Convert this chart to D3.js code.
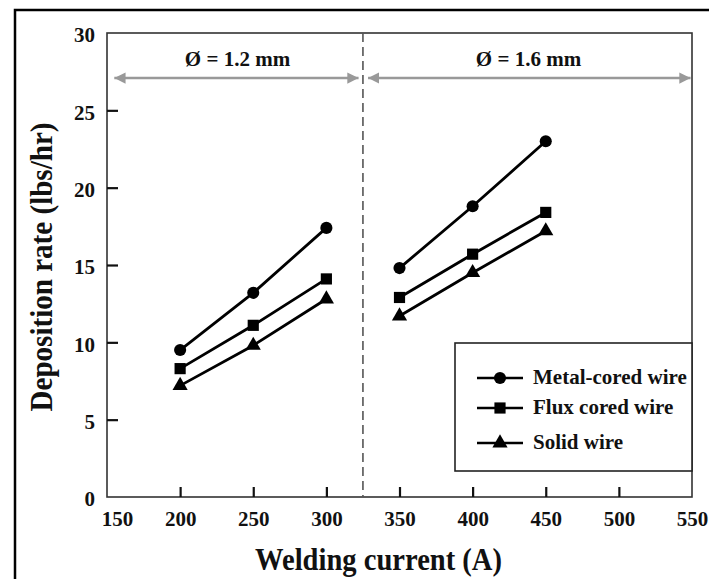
<!DOCTYPE html>
<html><head><meta charset="utf-8">
<script src="https://cdn.jsdelivr.net/npm/d3@7"></script>
<style>body{margin:0;background:#fff;} svg{display:block;} text{font-family:"Liberation Serif","Times New Roman",Times,"DejaVu Serif",serif;font-weight:bold;}</style>
</head><body>
<script>
const currents12 = [200, 250, 300];
const currents16 = [350, 400, 450];
const seriesNames = ["Metal-cored wire", "Flux cored wire", "Solid wire"];
const metalCored12 = [9.5, 13.2, 17.4];
const metalCored16 = [14.8, 18.8, 23.0];
const fluxCored12 = [8.3, 11.1, 14.1];
const fluxCored16 = [12.9, 15.7, 18.4];
const solid12 = [7.2, 9.8, 12.8];
const solid16 = [11.7, 14.5, 17.2];
const xTicks = [150, 200, 250, 300, 350, 400, 450, 500, 550];
const yTicks = [0, 5, 10, 15, 20, 25, 30];
const dividerX = 325;
const groupLabels = ["Ø = 1.2 mm", "Ø = 1.6 mm"];

const W = 709, H = 579;
const m = {left: 107, right: 692, top: 33, bottom: 497};
const svg = d3.select("body").append("svg").attr("width", W).attr("height", H);

// outer frame
svg.append("path").attr("d", `M15,${H+2} L15,10 L${W+2},10`).attr("fill","none").attr("stroke","#000").attr("stroke-width",2.5);

const x = d3.scaleLinear().domain([150, 550]).range([m.left, m.right]);
const y = d3.scaleLinear().domain([0, 30]).range([m.bottom, m.top]);

// plot box
svg.append("rect").attr("x", m.left).attr("y", m.top).attr("width", m.right-m.left).attr("height", m.bottom-m.top)
  .attr("fill","none").attr("stroke","#333").attr("stroke-width",1.6);

// axes
const xAxis = d3.axisBottom(x).tickValues(xTicks).tickSizeInner(-10).tickSizeOuter(0).tickPadding(14);
const gx = svg.append("g").attr("transform", `translate(0,${m.bottom})`).call(xAxis);
const yAxis = d3.axisLeft(y).tickValues(yTicks).tickSizeInner(-11).tickSizeOuter(0).tickPadding(12);
const gy = svg.append("g").attr("transform", `translate(${m.left},0)`).call(yAxis);
[gx, gy].forEach(g => {
  g.attr("font-family", null);
  g.select(".domain").remove();
  g.selectAll(".tick line").attr("stroke","#111").attr("stroke-width",2.2);
  g.selectAll("text").attr("font-size",21).attr("fill","#111");
});
gy.selectAll("text").attr("dy","0.42em");
gx.selectAll(".tick").filter(d => d === 150 || d === 550).select("line").remove();
gx.selectAll(".tick").filter(d => d === 150).select("text").attr("dx", 10);
gy.selectAll(".tick").filter(d => d === 0 || d === 30).select("line").remove();

// divider
svg.append("line").attr("x1", x(dividerX)).attr("x2", x(dividerX)).attr("y1", m.top).attr("y2", m.bottom)
  .attr("stroke","#555").attr("stroke-width",1.6).attr("stroke-dasharray","9,5");

// group arrows
const defs = svg.append("defs");
defs.append("marker").attr("id","ah").attr("viewBox","0 0 10 10").attr("refX",10).attr("refY",5)
  .attr("markerWidth",4.5).attr("markerHeight",4.5).attr("markerUnits","strokeWidth").attr("orient","auto-start-reverse")
  .append("path").attr("d","M0,0 L10,5 L0,10 Z").attr("fill","#999");
const groups = [[155, 322], [328.5, 549]];
groups.forEach((g, i) => {
  svg.append("line").attr("x1", x(g[0])).attr("x2", x(g[1])).attr("y1", 78).attr("y2", 78)
    .attr("stroke","#999").attr("stroke-width",2.5).attr("marker-start","url(#ah)").attr("marker-end","url(#ah)");
  svg.append("text").attr("x", i === 0 ? 237.5 : 528.5).attr("y", 66).attr("text-anchor","middle")
    .attr("font-size",21).attr("fill","#111").text(groupLabels[i]);
});

// series
const symbols = [d3.symbolCircle, d3.symbolSquare, d3.symbolTriangle];
const symSizes = [115, 125, 100];
const data = [
  [metalCored12, metalCored16],
  [fluxCored12, fluxCored16],
  [solid12, solid16]
];
const line = d3.line().x(d => x(d[0])).y(d => y(d[1]));
data.forEach((s, si) => {
  [[currents12, s[0]], [currents16, s[1]]].forEach(([cx, vals]) => {
    const pts = cx.map((c, i) => [c, vals[i]]);
    svg.append("path").attr("d", line(pts)).attr("fill","none").attr("stroke","#000").attr("stroke-width",2.8);
    svg.selectAll(null).data(pts).enter().append("path")
      .attr("d", d3.symbol().type(symbols[si]).size(symSizes[si]))
      .attr("transform", d => `translate(${x(d[0])},${y(d[1])})`).attr("fill","#000");
  });
});

// legend
const lg = svg.append("g");
lg.append("rect").attr("x", 455).attr("y", 343).attr("width", 237).attr("height", 128)
  .attr("fill","#fff").attr("stroke","#222").attr("stroke-width",1.6);
const rowsY = [378, 408, 443];
seriesNames.forEach((n, i) => {
  lg.append("line").attr("x1", 477).attr("x2", 523).attr("y1", rowsY[i]).attr("y2", rowsY[i])
    .attr("stroke","#000").attr("stroke-width",2.4);
  lg.append("path").attr("d", d3.symbol().type(symbols[i]).size(symSizes[i]))
    .attr("transform", `translate(500,${rowsY[i]})`).attr("fill","#000");
  lg.append("text").attr("x", 533).attr("y", rowsY[i] + 5.5)
    .attr("font-size",21).attr("fill","#111").text(n);
});

// titles
svg.append("text").attr("x", 378.5).attr("y", 570).attr("text-anchor","middle")
  .attr("font-size",31).attr("textLength",247).attr("lengthAdjust","spacingAndGlyphs")
  .attr("fill","#111").text("Welding current (A)");
svg.append("text").attr("transform","translate(52,267) rotate(-90)").attr("text-anchor","middle")
  .attr("font-size",31).attr("textLength",289).attr("lengthAdjust","spacingAndGlyphs")
  .attr("fill","#111").text("Deposition rate (lbs/hr)");
</script>
</body></html>
